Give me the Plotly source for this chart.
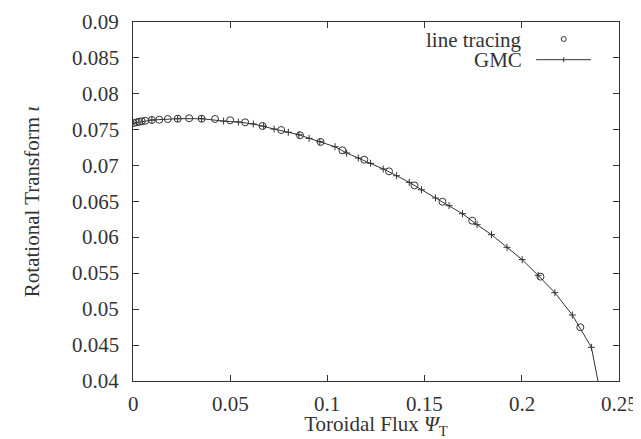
import plotly.graph_objects as go

# line tracing (circles)
lt_x = [0.0003, 0.0020, 0.0032, 0.0045, 0.0063, 0.0097, 0.0135, 0.0179, 0.0230, 0.0289,
        0.0353, 0.0422, 0.0500, 0.0577, 0.0666, 0.0762, 0.0859, 0.0965, 0.1077, 0.1190,
        0.1317, 0.1448, 0.1592, 0.1745, 0.2096, 0.2301]
lt_y = [0.07593, 0.07603, 0.07611, 0.07617, 0.07625, 0.07635, 0.07639, 0.07649, 0.07653, 0.07659,
        0.07653, 0.07649, 0.07631, 0.07603, 0.07552, 0.07496, 0.07422, 0.07329, 0.07213, 0.07082,
        0.06920, 0.06724, 0.06497, 0.06233, 0.05453, 0.04748]

# GMC (line with crosses)
gmc_x = [0.0, 0.0097, 0.0230, 0.0353, 0.0466, 0.0542, 0.0619, 0.0672, 0.0726, 0.0799,
         0.0853, 0.0906, 0.0961, 0.1039, 0.1099, 0.1159, 0.1222, 0.1287, 0.1356, 0.1421,
         0.1484, 0.1556, 0.1626, 0.1695, 0.1770, 0.1844, 0.1924, 0.2002, 0.2084, 0.2170,
         0.2260, 0.2358, 0.2412]
gmc_y = [0.0759, 0.07635, 0.07653, 0.07653, 0.0762, 0.07607, 0.0758, 0.0755, 0.07509, 0.07464,
         0.0743, 0.0738, 0.07333, 0.07263, 0.07175, 0.07106, 0.07032, 0.06953, 0.06859, 0.06767,
         0.06664, 0.06549, 0.06442, 0.0633, 0.06177, 0.06038, 0.05862, 0.05690, 0.05472, 0.05230,
         0.04919, 0.04469, 0.0372]

x_ticks = [0, 0.05, 0.1, 0.15, 0.2, 0.25]
x_ticktext = ["0", "0.05", "0.1", "0.15", "0.2", "0.25"]
y_ticks = [0.04, 0.045, 0.05, 0.055, 0.06, 0.065, 0.07, 0.075, 0.08, 0.085, 0.09]
y_ticktext = ["0.04", "0.045", "0.05", "0.055", "0.06", "0.065", "0.07", "0.075", "0.08", "0.085", "0.09"]

INK = "#333333"
FONT = "Liberation Serif, Times New Roman, serif"
FS = 21

fig = go.Figure()
fig.add_trace(go.Scatter(
    x=gmc_x, y=gmc_y, mode="lines+markers", name="GMC",
    line=dict(color=INK, width=1),
    marker=dict(symbol="cross-thin-open", size=5, line=dict(color=INK, width=1)),
    showlegend=False,
))
fig.add_trace(go.Scatter(
    x=lt_x, y=lt_y, mode="markers", name="line tracing",
    marker=dict(symbol="circle-open", size=7, color=INK, line=dict(color=INK, width=1)),
    showlegend=False,
))

axis_common = dict(
    showline=True, linecolor=INK, linewidth=1, mirror="ticks",
    ticks="inside", ticklen=6, tickcolor=INK, tickwidth=1,
    showgrid=False, zeroline=False, showticklabels=False,
)

fig.update_layout(
    template="none",
    xaxis=dict(
        range=[0, 0.25], tickmode="array", tickvals=x_ticks,
        title=dict(text="Toroidal Flux <i>Ψ</i><sub>T</sub>",
                   font=dict(family=FONT, size=FS, color=INK), standoff=35),
        **axis_common,
    ),
    yaxis=dict(
        range=[0.04, 0.09], tickmode="array", tickvals=y_ticks,
        title=dict(text="Rotational Transform <i>ι</i>",
                   font=dict(family=FONT, size=FS, color=INK), standoff=86),
        **axis_common,
    ),
)

# tick labels as serif text placed through the axes' own scales
for v, t in zip(x_ticks, x_ticktext):
    fig.add_annotation(x=v, y=0, xref="x", yref="paper", text=t, showarrow=False,
                       xanchor="center", yanchor="top", yshift=-9,
                       font=dict(family=FONT, size=FS, color=INK))
for v, t in zip(y_ticks, y_ticktext):
    fig.add_annotation(x=0, y=v, xref="paper", yref="y", text=t, showarrow=False,
                       xanchor="right", yanchor="middle", xshift=-12.5,
                       font=dict(family=FONT, size=FS, color=INK))

# custom legend (text right-aligned, key on the right)
fig.add_annotation(x=0.8047, y=0.9507, xref="paper", yref="paper", text="line tracing",
                   showarrow=False, xanchor="right", yanchor="middle",
                   font=dict(family=FONT, size=FS, color=INK))
fig.add_annotation(x=0.8047, y=0.895, xref="paper", yref="paper", text="GMC",
                   showarrow=False, xanchor="right", yanchor="middle",
                   font=dict(family=FONT, size=FS, color=INK))
fig.add_shape(type="circle", xref="paper", yref="paper", xsizemode="pixel", ysizemode="pixel",
              xanchor=0.8863, yanchor=0.9526, x0=-2.5, x1=2.5, y0=-2.5, y1=2.5,
              line=dict(color=INK, width=1))
fig.add_shape(type="line", xref="paper", yref="paper", x0=0.8294, x1=0.9424, y0=0.895, y1=0.895,
              line=dict(color=INK, width=1))
fig.add_shape(type="line", xref="paper", yref="paper", ysizemode="pixel", yanchor=0.895,
              x0=0.8863, x1=0.8863, y0=-2.5, y1=2.5, line=dict(color=INK, width=1))

fig.update_layout(
    width=641, height=439,
    margin=dict(l=124.5, r=30, t=14, b=66, autoexpand=False),
    paper_bgcolor="white", plot_bgcolor="white",
    font=dict(family=FONT, size=FS, color=INK),
)

fig.write_html("out.html")
